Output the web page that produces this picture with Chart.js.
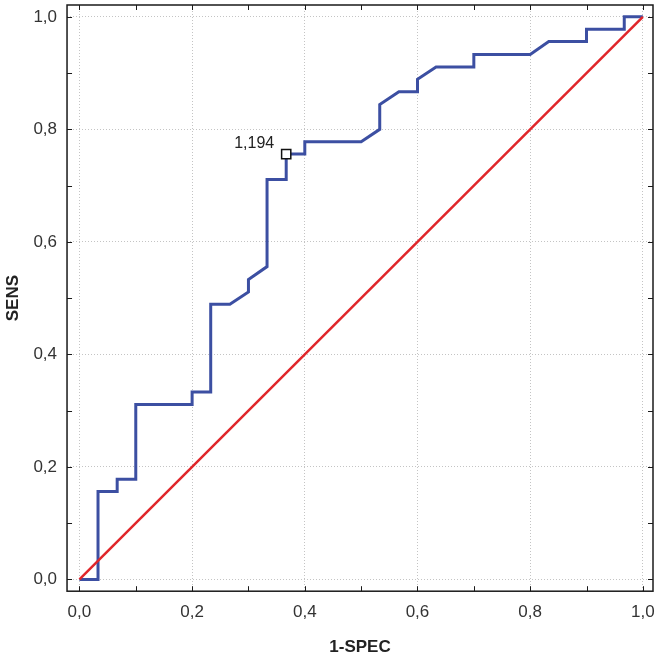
<!DOCTYPE html>
<html>
<head>
<meta charset="utf-8">
<script src="https://cdn.jsdelivr.net/npm/chart.js@4.4.1/dist/chart.umd.min.js"></script>
<style>
  html, body { margin: 0; padding: 0; background: #fff; }
  #wrap { width: 655px; height: 655px; }
</style>
</head>
<body>
<div id="wrap"><canvas id="rocChart" width="655" height="655"></canvas></div>
<script>
// ROC curve (1-specificity vs sensitivity)
const fprValues = [0, 0.033, 0.033, 0.067, 0.067, 0.1, 0.1, 0.2, 0.2, 0.233, 0.233, 0.267, 0.3, 0.3, 0.333, 0.333,
  0.367, 0.367, 0.4, 0.4, 0.5, 0.533, 0.533, 0.567, 0.6, 0.6, 0.633, 0.7, 0.7, 0.8, 0.833, 0.9, 0.9, 0.967, 0.967, 1.0];
const tprValues = [0, 0, 0.156, 0.156, 0.178, 0.178, 0.311, 0.311, 0.333, 0.333, 0.489, 0.489, 0.511, 0.533, 0.556, 0.711,
  0.711, 0.756, 0.756, 0.778, 0.778, 0.8, 0.844, 0.867, 0.867, 0.889, 0.911, 0.911, 0.933, 0.933, 0.956, 0.956, 0.978, 0.978, 1.0, 1.0];

// reference diagonal
const diagX = [0, 1];
const diagY = [0, 1];

// cut-off point
const cutoffPoint = [0.367, 0.756];
const cutoffLabel = '1,194';

const xTickValues = [0, 0.2, 0.4, 0.6, 0.8, 1.0];
const yTickValues = [0, 0.2, 0.4, 0.6, 0.8, 1.0];
const minorTickValues = [0, 0.1, 0.2, 0.3, 0.4, 0.5, 0.6, 0.7, 0.8, 0.9, 1.0];

const FONT = '"Liberation Sans", Arial, sans-serif';

function fmt(v) {
  return v.toFixed(1).replace('.', ',');
}

function toPoints(xs, ys) {
  return xs.map((x, i) => ({ x: x, y: ys[i] }));
}

// box frame with inward ticks on all sides + cut-off label
const frameAndTicks = {
  id: 'frameAndTicks',
  afterDatasetsDraw(chart) {
    const { ctx, chartArea: a, scales: { x, y } } = chart;
    ctx.save();
    ctx.strokeStyle = '#1a1a1a';
    ctx.lineWidth = 1.5;
    ctx.strokeRect(a.left, a.top, a.right - a.left, a.bottom - a.top);
    ctx.lineWidth = 1;
    ctx.beginPath();
    minorTickValues.forEach(v => {
      const px = Math.round(x.getPixelForValue(v)) + 0.5;
      ctx.moveTo(px, a.bottom); ctx.lineTo(px, a.bottom - 5);
      ctx.moveTo(px, a.top); ctx.lineTo(px, a.top + 5);
      const py = Math.round(y.getPixelForValue(v)) + 0.5;
      ctx.moveTo(a.left, py); ctx.lineTo(a.left + 5, py);
      ctx.moveTo(a.right, py); ctx.lineTo(a.right - 5, py);
    });
    ctx.stroke();

    ctx.fillStyle = '#222';
    ctx.font = '16px ' + FONT;
    ctx.textAlign = 'right';
    ctx.textBaseline = 'alphabetic';
    ctx.fillText(cutoffLabel, x.getPixelForValue(cutoffPoint[0]) - 12, y.getPixelForValue(cutoffPoint[1]) - 6);
    ctx.restore();
  }
};

function axis(min, max, ticks, title, titlePad, tickPad, horizontal) {
  return {
    type: 'linear',
    min: min,
    max: max,
    afterBuildTicks: scale => {
      scale.ticks = ticks.map(v => ({ value: v }));
    },
    // let labels hang past the plot box like in the original
    afterFit: scale => {
      if (horizontal) {
        scale.paddingLeft = 0;
        scale.paddingRight = 0;
      } else {
        scale.paddingTop = 0;
        scale.paddingBottom = 0;
      }
    },
    grid: { color: '#c4c4c4', lineWidth: 1, drawTicks: false },
    border: { display: false, dash: [1, 2] },
    ticks: {
      color: '#333',
      padding: tickPad,
      font: { family: FONT, size: 17 },
      callback: v => fmt(v)
    },
    title: {
      display: true,
      text: title,
      color: '#222',
      font: { family: FONT, size: 17, weight: 'bold' },
      padding: titlePad
    }
  };
}

new Chart(document.getElementById('rocChart').getContext('2d'), {
  type: 'scatter',
  data: {
    datasets: [
      {
        label: 'cut-off',
        data: [{ x: cutoffPoint[0], y: cutoffPoint[1] }],
        pointStyle: 'rect',
        pointRadius: 6.5,
        pointBackgroundColor: '#fff',
        pointBorderColor: '#111',
        pointBorderWidth: 1.5,
        order: 0
      },
      {
        label: 'diagonal',
        data: toPoints(diagX, diagY),
        showLine: true,
        borderColor: '#e0262a',
        borderWidth: 2.5,
        pointRadius: 0,
        order: 1
      },
      {
        label: 'ROC',
        data: toPoints(fprValues, tprValues),
        showLine: true,
        borderColor: '#3c4fa2',
        borderWidth: 3,
        pointRadius: 0,
        tension: 0,
        order: 2
      }
    ]
  },
  options: {
    responsive: false,
    animation: false,
    layout: { autoPadding: false, padding: { top: 5, right: 2, left: 0, bottom: -3 } },
    plugins: {
      legend: { display: false },
      tooltip: { enabled: false }
    },
    scales: {
      x: axis(-0.022, 1.018, xTickValues, '1-SPEC', { top: 4, bottom: 0 }, 11, true),
      y: axis(-0.021, 1.021, yTickValues, 'SENS', { top: 3, bottom: 0 }, 10, false)
    }
  },
  plugins: [frameAndTicks]
});
</script>
</body>
</html>
